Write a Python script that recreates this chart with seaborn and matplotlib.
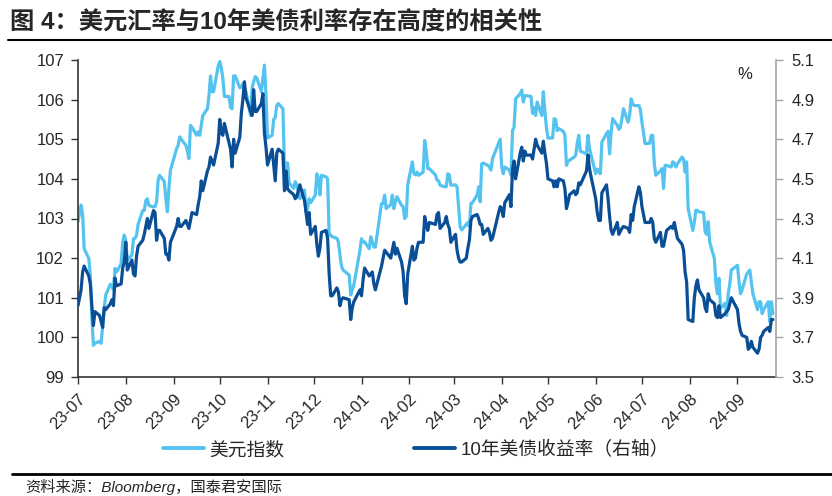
import matplotlib
matplotlib.use("Agg")
import matplotlib.pyplot as plt
from matplotlib.lines import Line2D
import pandas as pd
import seaborn as sns

# US dollar index, daily close
dxy_points = [
    ("2023-07-03", 102.92), ("2023-07-05", 103.34), ("2023-07-06", 103.1), ("2023-07-07", 102.24),
    ("2023-07-10", 101.99), ("2023-07-11", 101.57), ("2023-07-12", 100.5), ("2023-07-13", 99.8),
    ("2023-07-14", 99.85), ("2023-07-17", 99.9), ("2023-07-18", 99.85), ("2023-07-19", 100.3),
    ("2023-07-20", 100.73), ("2023-07-21", 101.07), ("2023-07-24", 101.34), ("2023-07-25", 101.3),
    ("2023-07-26", 101.2), ("2023-07-27", 101.74), ("2023-07-28", 101.65), ("2023-07-31", 101.86),
    ("2023-08-01", 102.41), ("2023-08-02", 102.58), ("2023-08-03", 102.45), ("2023-08-04", 101.95),
    ("2023-08-07", 102.08), ("2023-08-08", 102.49), ("2023-08-09", 102.5), ("2023-08-10", 102.58),
    ("2023-08-11", 102.85), ("2023-08-14", 103.2), ("2023-08-15", 103.2), ("2023-08-16", 103.45),
    ("2023-08-17", 103.5), ("2023-08-18", 103.33), ("2023-08-21", 103.29), ("2023-08-22", 103.3),
    ("2023-08-23", 103.42), ("2023-08-24", 103.97), ("2023-08-25", 104.09), ("2023-08-28", 103.93),
    ("2023-08-29", 103.5), ("2023-08-30", 103.17), ("2023-08-31", 103.76),
    ("2023-09-01", 104.22), ("2023-09-05", 104.76), ("2023-09-06", 104.85), ("2023-09-07", 105.06),
    ("2023-09-08", 105.0), ("2023-09-11", 104.85), ("2023-09-12", 104.7), ("2023-09-13", 104.51),
    ("2023-09-14", 105.35), ("2023-09-15", 105.3), ("2023-09-18", 105.1), ("2023-09-19", 105.19),
    ("2023-09-20", 105.1), ("2023-09-21", 105.35), ("2023-09-22", 105.6), ("2023-09-25", 105.77),
    ("2023-09-26", 106.1), ("2023-09-27", 106.6), ("2023-09-28", 106.2), ("2023-09-29", 106.2),
    ("2023-10-02", 106.85), ("2023-10-03", 106.96), ("2023-10-04", 106.8), ("2023-10-05", 106.54),
    ("2023-10-06", 106.08), ("2023-10-09", 106.08), ("2023-10-10", 105.8), ("2023-10-11", 105.77),
    ("2023-10-12", 106.6), ("2023-10-13", 106.6), ("2023-10-16", 106.3), ("2023-10-17", 106.32),
    ("2023-10-18", 106.4), ("2023-10-19", 106.2), ("2023-10-20", 106.2), ("2023-10-23", 105.6),
    ("2023-10-24", 106.3), ("2023-10-25", 106.45), ("2023-10-26", 106.58), ("2023-10-27", 106.55),
    ("2023-10-30", 106.2), ("2023-10-31", 106.54),
    ("2023-11-01", 106.87), ("2023-11-02", 106.1), ("2023-11-03", 105.03), ("2023-11-06", 105.1),
    ("2023-11-07", 105.5), ("2023-11-08", 105.55), ("2023-11-09", 105.86), ("2023-11-10", 105.9),
    ("2023-11-13", 105.77), ("2023-11-14", 104.26), ("2023-11-15", 104.4), ("2023-11-16", 104.4),
    ("2023-11-17", 103.9), ("2023-11-20", 103.76), ("2023-11-21", 103.93), ("2023-11-22", 103.85),
    ("2023-11-24", 103.5), ("2023-11-27", 103.72), ("2023-11-28", 103.17), ("2023-11-29", 103.25),
    ("2023-11-30", 103.5),
    ("2023-12-01", 103.4), ("2023-12-04", 103.59), ("2023-12-05", 104.13), ("2023-12-06", 104.0),
    ("2023-12-07", 103.59), ("2023-12-08", 104.09), ("2023-12-11", 104.05), ("2023-12-12", 104.0),
    ("2023-12-13", 102.58), ("2023-12-14", 102.58), ("2023-12-15", 102.54), ("2023-12-18", 102.5),
    ("2023-12-19", 102.41), ("2023-12-20", 102.08), ("2023-12-21", 101.8), ("2023-12-22", 101.7),
    ("2023-12-26", 101.57), ("2023-12-27", 101.07), ("2023-12-28", 101.2), ("2023-12-29", 101.32),
    ("2024-01-02", 102.2), ("2024-01-03", 102.49), ("2024-01-04", 102.41), ("2024-01-05", 102.41),
    ("2024-01-08", 102.24), ("2024-01-09", 102.54), ("2024-01-10", 102.4), ("2024-01-11", 102.28),
    ("2024-01-12", 102.28), ("2024-01-16", 103.38), ("2024-01-17", 103.38), ("2024-01-18", 103.59),
    ("2024-01-19", 103.25), ("2024-01-22", 103.35), ("2024-01-23", 103.59), ("2024-01-24", 103.25),
    ("2024-01-25", 103.42), ("2024-01-26", 103.55), ("2024-01-29", 103.33), ("2024-01-30", 103.3),
    ("2024-01-31", 103.0),
    ("2024-02-01", 103.05), ("2024-02-02", 103.85), ("2024-02-05", 104.43), ("2024-02-06", 104.13),
    ("2024-02-07", 104.1), ("2024-02-08", 104.17), ("2024-02-09", 104.09), ("2024-02-12", 104.17),
    ("2024-02-13", 104.97), ("2024-02-14", 104.7), ("2024-02-15", 104.26), ("2024-02-16", 104.26),
    ("2024-02-20", 104.1), ("2024-02-21", 103.97), ("2024-02-22", 103.95), ("2024-02-23", 103.84),
    ("2024-02-26", 103.8), ("2024-02-27", 103.8), ("2024-02-28", 104.13), ("2024-02-29", 104.1),
    ("2024-03-01", 103.84), ("2024-03-04", 103.85), ("2024-03-05", 103.8), ("2024-03-06", 103.3),
    ("2024-03-07", 102.8), ("2024-03-08", 102.71), ("2024-03-11", 102.85), ("2024-03-12", 102.9),
    ("2024-03-13", 102.8), ("2024-03-14", 103.38), ("2024-03-15", 103.4), ("2024-03-18", 103.59),
    ("2024-03-19", 103.8), ("2024-03-20", 103.42), ("2024-03-21", 104.38), ("2024-03-22", 104.4),
    ("2024-03-25", 104.34), ("2024-03-26", 104.3), ("2024-03-27", 104.22), ("2024-03-28", 104.51),
    ("2024-04-01", 104.9), ("2024-04-02", 105.0), ("2024-04-03", 104.3), ("2024-04-04", 104.13),
    ("2024-04-05", 104.3), ("2024-04-08", 104.22), ("2024-04-09", 104.09), ("2024-04-10", 105.22),
    ("2024-04-11", 105.3), ("2024-04-12", 106.02), ("2024-04-15", 106.15), ("2024-04-16", 106.24),
    ("2024-04-17", 105.94), ("2024-04-18", 106.1), ("2024-04-19", 106.1), ("2024-04-22", 106.08),
    ("2024-04-23", 105.65), ("2024-04-24", 105.8), ("2024-04-25", 105.6), ("2024-04-26", 105.94),
    ("2024-04-29", 105.6), ("2024-04-30", 106.2),
    ("2024-05-01", 105.7), ("2024-05-02", 105.3), ("2024-05-03", 105.03), ("2024-05-06", 105.03),
    ("2024-05-07", 105.52), ("2024-05-08", 105.5), ("2024-05-09", 105.22), ("2024-05-10", 105.27),
    ("2024-05-13", 105.2), ("2024-05-14", 105.1), ("2024-05-15", 104.34), ("2024-05-16", 104.45),
    ("2024-05-17", 104.47), ("2024-05-20", 104.55), ("2024-05-21", 104.6), ("2024-05-22", 104.9),
    ("2024-05-23", 105.1), ("2024-05-24", 104.7), ("2024-05-28", 104.63), ("2024-05-29", 105.1),
    ("2024-05-30", 104.75), ("2024-05-31", 104.6),
    ("2024-06-03", 104.13), ("2024-06-04", 104.25), ("2024-06-05", 104.2), ("2024-06-06", 104.13),
    ("2024-06-07", 104.93), ("2024-06-10", 105.14), ("2024-06-11", 105.2), ("2024-06-12", 104.63),
    ("2024-06-13", 105.18), ("2024-06-14", 105.52), ("2024-06-17", 105.35), ("2024-06-18", 105.25),
    ("2024-06-19", 105.3), ("2024-06-20", 105.52), ("2024-06-21", 105.77), ("2024-06-24", 105.43),
    ("2024-06-25", 105.6), ("2024-06-26", 106.02), ("2024-06-27", 105.9), ("2024-06-28", 105.85),
    ("2024-07-01", 105.85), ("2024-07-02", 105.75), ("2024-07-03", 105.43), ("2024-07-05", 104.89),
    ("2024-07-08", 104.9), ("2024-07-09", 105.1), ("2024-07-10", 105.1), ("2024-07-11", 104.4),
    ("2024-07-12", 104.09), ("2024-07-15", 104.2), ("2024-07-16", 104.26), ("2024-07-17", 103.76),
    ("2024-07-18", 104.34), ("2024-07-19", 104.34), ("2024-07-22", 104.3), ("2024-07-23", 104.43),
    ("2024-07-24", 104.4), ("2024-07-25", 104.3), ("2024-07-26", 104.38), ("2024-07-29", 104.55),
    ("2024-07-30", 104.5), ("2024-07-31", 104.17),
    ("2024-08-01", 104.43), ("2024-08-02", 103.25), ("2024-08-05", 102.7), ("2024-08-06", 102.9),
    ("2024-08-07", 103.21), ("2024-08-08", 103.2), ("2024-08-09", 103.17), ("2024-08-12", 103.15),
    ("2024-08-13", 102.66), ("2024-08-14", 102.6), ("2024-08-15", 102.92), ("2024-08-16", 102.4),
    ("2024-08-19", 101.99), ("2024-08-20", 101.35), ("2024-08-21", 101.1), ("2024-08-22", 101.49),
    ("2024-08-23", 100.73), ("2024-08-26", 100.86), ("2024-08-27", 100.55), ("2024-08-28", 101.1),
    ("2024-08-29", 101.35), ("2024-08-30", 101.7),
    ("2024-09-03", 101.82), ("2024-09-04", 101.4), ("2024-09-05", 101.1), ("2024-09-06", 101.2),
    ("2024-09-09", 101.6), ("2024-09-10", 101.65), ("2024-09-11", 101.7), ("2024-09-12", 101.4),
    ("2024-09-13", 101.1), ("2024-09-16", 100.7), ("2024-09-17", 100.9), ("2024-09-18", 100.9),
    ("2024-09-19", 100.6), ("2024-09-20", 100.7), ("2024-09-23", 100.9), ("2024-09-24", 100.4),
    ("2024-09-25", 100.9), ("2024-09-26", 100.6),
]

# US 10y treasury yield, %, daily (right axis)
ust_points = [
    ("2023-07-03", 3.86), ("2023-07-05", 3.94), ("2023-07-06", 4.03), ("2023-07-07", 4.06),
    ("2023-07-10", 4.01), ("2023-07-11", 3.97), ("2023-07-12", 3.86), ("2023-07-13", 3.76),
    ("2023-07-14", 3.83), ("2023-07-17", 3.81), ("2023-07-18", 3.78), ("2023-07-19", 3.75),
    ("2023-07-20", 3.85), ("2023-07-21", 3.84), ("2023-07-24", 3.87), ("2023-07-25", 3.89),
    ("2023-07-26", 3.86), ("2023-07-27", 4.00), ("2023-07-28", 3.96), ("2023-07-31", 3.97),
    ("2023-08-01", 4.05), ("2023-08-02", 4.08), ("2023-08-03", 4.18), ("2023-08-04", 4.04),
    ("2023-08-07", 4.09), ("2023-08-08", 4.02), ("2023-08-09", 4.01), ("2023-08-10", 4.11),
    ("2023-08-11", 4.16), ("2023-08-14", 4.19), ("2023-08-15", 4.22), ("2023-08-16", 4.26),
    ("2023-08-17", 4.30), ("2023-08-18", 4.25), ("2023-08-21", 4.34), ("2023-08-22", 4.33),
    ("2023-08-23", 4.19), ("2023-08-24", 4.24), ("2023-08-25", 4.24), ("2023-08-28", 4.20),
    ("2023-08-29", 4.12), ("2023-08-30", 4.12), ("2023-08-31", 4.09),
    ("2023-09-01", 4.18), ("2023-09-05", 4.26), ("2023-09-06", 4.30), ("2023-09-07", 4.26),
    ("2023-09-08", 4.26), ("2023-09-11", 4.29), ("2023-09-12", 4.27), ("2023-09-13", 4.25),
    ("2023-09-14", 4.29), ("2023-09-15", 4.33), ("2023-09-18", 4.32), ("2023-09-19", 4.37),
    ("2023-09-20", 4.41), ("2023-09-21", 4.49), ("2023-09-22", 4.44), ("2023-09-25", 4.54),
    ("2023-09-26", 4.56), ("2023-09-27", 4.61), ("2023-09-28", 4.59), ("2023-09-29", 4.57),
    ("2023-10-02", 4.68), ("2023-10-03", 4.80), ("2023-10-04", 4.73), ("2023-10-05", 4.72),
    ("2023-10-06", 4.78), ("2023-10-10", 4.65), ("2023-10-11", 4.56), ("2023-10-12", 4.70),
    ("2023-10-13", 4.63), ("2023-10-16", 4.71), ("2023-10-17", 4.83), ("2023-10-18", 4.90),
    ("2023-10-19", 4.99), ("2023-10-20", 4.91), ("2023-10-23", 4.84), ("2023-10-24", 4.82),
    ("2023-10-25", 4.95), ("2023-10-26", 4.84), ("2023-10-27", 4.84), ("2023-10-30", 4.88),
    ("2023-10-31", 4.93),
    ("2023-11-01", 4.73), ("2023-11-02", 4.66), ("2023-11-03", 4.57), ("2023-11-06", 4.65),
    ("2023-11-07", 4.57), ("2023-11-08", 4.49), ("2023-11-09", 4.63), ("2023-11-10", 4.65),
    ("2023-11-13", 4.63), ("2023-11-14", 4.44), ("2023-11-15", 4.54), ("2023-11-16", 4.45),
    ("2023-11-17", 4.44), ("2023-11-20", 4.42), ("2023-11-21", 4.40), ("2023-11-22", 4.41),
    ("2023-11-24", 4.47), ("2023-11-27", 4.39), ("2023-11-28", 4.33), ("2023-11-29", 4.27),
    ("2023-11-30", 4.33),
    ("2023-12-01", 4.22), ("2023-12-04", 4.26), ("2023-12-05", 4.17), ("2023-12-06", 4.11),
    ("2023-12-07", 4.15), ("2023-12-08", 4.23), ("2023-12-11", 4.24), ("2023-12-12", 4.20),
    ("2023-12-13", 4.02), ("2023-12-14", 3.91), ("2023-12-15", 3.91), ("2023-12-18", 3.95),
    ("2023-12-19", 3.93), ("2023-12-20", 3.86), ("2023-12-21", 3.89), ("2023-12-22", 3.90),
    ("2023-12-26", 3.89), ("2023-12-27", 3.79), ("2023-12-28", 3.85), ("2023-12-29", 3.88),
    ("2024-01-02", 3.94), ("2024-01-03", 3.91), ("2024-01-04", 3.99), ("2024-01-05", 4.05),
    ("2024-01-08", 4.01), ("2024-01-09", 4.02), ("2024-01-10", 4.03), ("2024-01-11", 3.97),
    ("2024-01-12", 3.94), ("2024-01-16", 4.06), ("2024-01-17", 4.10), ("2024-01-18", 4.14),
    ("2024-01-19", 4.13), ("2024-01-22", 4.10), ("2024-01-23", 4.14), ("2024-01-24", 4.18),
    ("2024-01-25", 4.12), ("2024-01-26", 4.15), ("2024-01-29", 4.08), ("2024-01-30", 4.03),
    ("2024-01-31", 3.91),
    ("2024-02-01", 3.87), ("2024-02-02", 4.02), ("2024-02-05", 4.16), ("2024-02-06", 4.09),
    ("2024-02-07", 4.10), ("2024-02-08", 4.15), ("2024-02-09", 4.18), ("2024-02-12", 4.18),
    ("2024-02-13", 4.31), ("2024-02-14", 4.27), ("2024-02-15", 4.24), ("2024-02-16", 4.28),
    ("2024-02-20", 4.27), ("2024-02-21", 4.32), ("2024-02-22", 4.33), ("2024-02-23", 4.25),
    ("2024-02-26", 4.28), ("2024-02-27", 4.31), ("2024-02-28", 4.27), ("2024-02-29", 4.25),
    ("2024-03-01", 4.18), ("2024-03-04", 4.22), ("2024-03-05", 4.14), ("2024-03-06", 4.10),
    ("2024-03-07", 4.08), ("2024-03-08", 4.08), ("2024-03-11", 4.10), ("2024-03-12", 4.15),
    ("2024-03-13", 4.19), ("2024-03-14", 4.29), ("2024-03-15", 4.31), ("2024-03-18", 4.32),
    ("2024-03-19", 4.30), ("2024-03-20", 4.27), ("2024-03-21", 4.27), ("2024-03-22", 4.22),
    ("2024-03-25", 4.25), ("2024-03-26", 4.23), ("2024-03-27", 4.19), ("2024-03-28", 4.20),
    ("2024-04-01", 4.33), ("2024-04-02", 4.36), ("2024-04-03", 4.35), ("2024-04-04", 4.31),
    ("2024-04-05", 4.38), ("2024-04-08", 4.42), ("2024-04-09", 4.36), ("2024-04-10", 4.55),
    ("2024-04-11", 4.59), ("2024-04-12", 4.50), ("2024-04-15", 4.63), ("2024-04-16", 4.66),
    ("2024-04-17", 4.59), ("2024-04-18", 4.64), ("2024-04-19", 4.62), ("2024-04-22", 4.62),
    ("2024-04-23", 4.60), ("2024-04-24", 4.65), ("2024-04-25", 4.70), ("2024-04-26", 4.67),
    ("2024-04-29", 4.63), ("2024-04-30", 4.69),
    ("2024-05-01", 4.63), ("2024-05-02", 4.58), ("2024-05-03", 4.50), ("2024-05-06", 4.49),
    ("2024-05-07", 4.46), ("2024-05-08", 4.49), ("2024-05-09", 4.46), ("2024-05-10", 4.50),
    ("2024-05-13", 4.49), ("2024-05-14", 4.45), ("2024-05-15", 4.35), ("2024-05-16", 4.38),
    ("2024-05-17", 4.42), ("2024-05-20", 4.44), ("2024-05-21", 4.42), ("2024-05-22", 4.43),
    ("2024-05-23", 4.48), ("2024-05-24", 4.47), ("2024-05-28", 4.54), ("2024-05-29", 4.62),
    ("2024-05-30", 4.55), ("2024-05-31", 4.51),
    ("2024-06-03", 4.40), ("2024-06-04", 4.33), ("2024-06-05", 4.29), ("2024-06-06", 4.29),
    ("2024-06-07", 4.43), ("2024-06-10", 4.47), ("2024-06-11", 4.40), ("2024-06-12", 4.31),
    ("2024-06-13", 4.24), ("2024-06-14", 4.22), ("2024-06-17", 4.28), ("2024-06-18", 4.22),
    ("2024-06-20", 4.25), ("2024-06-21", 4.26), ("2024-06-24", 4.25), ("2024-06-25", 4.23),
    ("2024-06-26", 4.32), ("2024-06-27", 4.29), ("2024-06-28", 4.36),
    ("2024-07-01", 4.46), ("2024-07-02", 4.43), ("2024-07-03", 4.36), ("2024-07-05", 4.28),
    ("2024-07-08", 4.28), ("2024-07-09", 4.30), ("2024-07-10", 4.28), ("2024-07-11", 4.20),
    ("2024-07-12", 4.18), ("2024-07-15", 4.23), ("2024-07-16", 4.16), ("2024-07-17", 4.16),
    ("2024-07-18", 4.20), ("2024-07-19", 4.24), ("2024-07-22", 4.26), ("2024-07-23", 4.25),
    ("2024-07-24", 4.28), ("2024-07-25", 4.24), ("2024-07-26", 4.20), ("2024-07-29", 4.17),
    ("2024-07-30", 4.14), ("2024-07-31", 4.03),
    ("2024-08-01", 3.98), ("2024-08-02", 3.79), ("2024-08-05", 3.78), ("2024-08-06", 3.90),
    ("2024-08-07", 3.96), ("2024-08-08", 3.99), ("2024-08-09", 3.94), ("2024-08-12", 3.90),
    ("2024-08-13", 3.85), ("2024-08-14", 3.83), ("2024-08-15", 3.92), ("2024-08-16", 3.89),
    ("2024-08-19", 3.87), ("2024-08-20", 3.81), ("2024-08-21", 3.80), ("2024-08-22", 3.86),
    ("2024-08-23", 3.80), ("2024-08-26", 3.82), ("2024-08-27", 3.83), ("2024-08-28", 3.84),
    ("2024-08-29", 3.87), ("2024-08-30", 3.90),
    ("2024-09-03", 3.84), ("2024-09-04", 3.77), ("2024-09-05", 3.73), ("2024-09-06", 3.71),
    ("2024-09-09", 3.70), ("2024-09-10", 3.64), ("2024-09-11", 3.65), ("2024-09-12", 3.68),
    ("2024-09-13", 3.65), ("2024-09-16", 3.62), ("2024-09-17", 3.64), ("2024-09-18", 3.70),
    ("2024-09-19", 3.71), ("2024-09-20", 3.73), ("2024-09-23", 3.75), ("2024-09-24", 3.73),
    ("2024-09-25", 3.79), ("2024-09-26", 3.79),
]

title = "图 4：美元汇率与10年美债利率存在高度的相关性"
label_dxy = "美元指数"
label_ust = "10年美债收益率（右轴）"
source = "资料来源：Bloomberg，国泰君安国际"
left_ticks = [99, 100, 101, 102, 103, 104, 105, 106, 107]
right_ticks = [3.5, 3.7, 3.9, 4.1, 4.3, 4.5, 4.7, 4.9, 5.1]

light = "#55C3F0"
dark = "#0A4F96"

sns.set_style("white")
plt.rcParams["font.family"] = ["Liberation Sans", "Noto Sans CJK SC"]

dxy = pd.DataFrame(dxy_points, columns=["date", "value"])
dxy["date"] = pd.to_datetime(dxy["date"])
ust = pd.DataFrame(ust_points, columns=["date", "value"])
ust["date"] = pd.to_datetime(ust["date"])

fig = plt.figure(figsize=(8.32, 4.96), dpi=100)
ax = fig.add_axes([78 / 832, 1 - 377 / 496, (776 - 78) / 832, (377 - 60) / 496])
ax2 = ax.twinx()

sns.lineplot(data=dxy, x="date", y="value", ax=ax, color=light, lw=2.3)
sns.lineplot(data=ust, x="date", y="value", ax=ax2, color=dark, lw=2.3)

# axes ranges and ticks
ax.set_xlim(pd.Timestamp("2023-07-03"), pd.Timestamp("2024-09-28"))
ax.set_ylim(99, 107)
ax.set_yticks(left_ticks)
ax2.set_ylim(3.5, 5.1)
ax2.set_yticks(right_ticks)
ax2.yaxis.set_major_formatter(matplotlib.ticker.FormatStrFormatter("%.1f"))

month_ticks = pd.date_range("2023-07-01", "2024-09-01", freq="MS") + pd.Timedelta(days=2)
ax.set_xticks(month_ticks)
ax.set_xticklabels([d.strftime("%y-%m") for d in month_ticks], rotation=45,
                   ha="right", va="top", rotation_mode="anchor")

for a in (ax, ax2):
    a.set_xlabel("")
    a.set_ylabel("")
    a.grid(False)
    a.spines["top"].set_visible(False)

ax.spines["right"].set_visible(False)
ax2.spines["left"].set_visible(False)
ax2.spines["bottom"].set_visible(False)
ax.spines["left"].set_color("#333333")
ax.spines["bottom"].set_color("#333333")
ax2.spines["right"].set_color("#A6A6A6")
for s in ("left", "bottom"):
    ax.spines[s].set_linewidth(1.2)
ax2.spines["right"].set_linewidth(1.2)

ax.tick_params(axis="y", direction="out", length=5, width=1, color="#333333",
               labelsize=12, pad=5, left=True)
ax.tick_params(axis="x", direction="out", length=5, width=1, color="#333333",
               labelsize=12, pad=5, bottom=True)
ax2.tick_params(axis="y", direction="out", length=5, width=1, color="#A6A6A6",
                labelsize=12, pad=6, right=True)

ax2.text(0.955, 0.955, "%", transform=ax.transAxes, fontsize=12, ha="center", va="center")

# legend below
handles = [Line2D([], [], color=light, lw=2.8), Line2D([], [], color=dark, lw=2.8)]
fig.legend(handles, [label_dxy, label_ust], loc="center", bbox_to_anchor=(0.5, 1 - 450 / 496),
           ncol=2, frameon=False, fontsize=13.5, handlelength=2.2, handletextpad=0.3,
           columnspacing=6.9)

# title, rules and source
fig.text(10 / 832, 1 - 22 / 496, title, fontsize=17.5, fontweight="bold", ha="left", va="center")
fig.add_artist(Line2D([8 / 832, 1.0], [1 - 40 / 496] * 2, transform=fig.transFigure,
                      color="black", lw=1.5))
fig.add_artist(Line2D([12 / 832, 1.0], [1 - 474 / 496] * 2, transform=fig.transFigure,
                      color="black", lw=2))
fig.text(25 / 832, 1 - 487 / 496, source, fontsize=11, style="italic", ha="left", va="center")

fig.savefig("out.png", dpi=100)
